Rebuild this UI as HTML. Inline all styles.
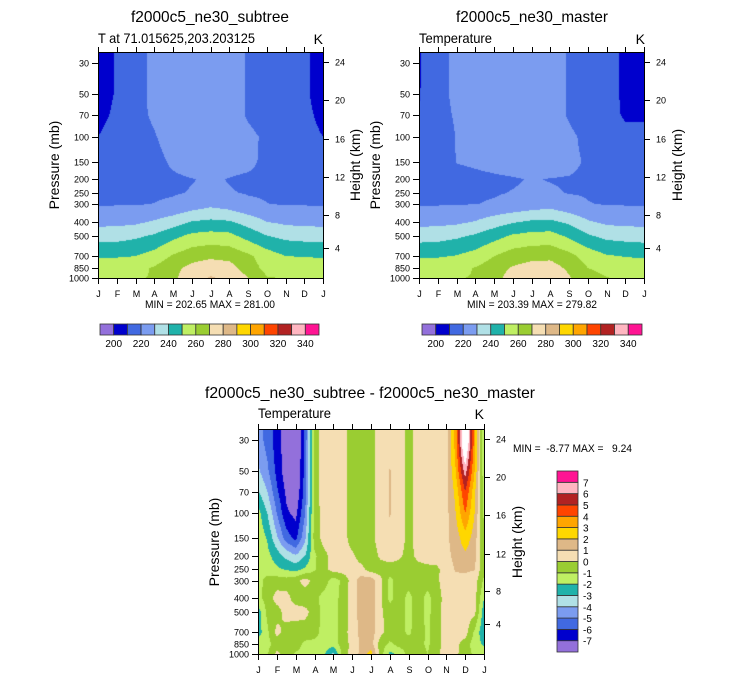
<!DOCTYPE html>
<html><head><meta charset="utf-8">
<style>
html,body{margin:0;padding:0;background:#fff;}
#root{position:relative;width:733px;height:679px;overflow:hidden;background:#fff;font-family:"Liberation Sans",sans-serif;}
canvas{position:absolute;}
svg{position:absolute;left:0;top:0;}
</style></head>
<body>
<div id="root">
<canvas id="cv1"></canvas>
<canvas id="cv2"></canvas>
<canvas id="cv3"></canvas>
<svg id="ov" width="733" height="679" font-family="Liberation Sans, sans-serif">
  <text x="210" y="22" text-anchor="middle" font-size="16" textLength="158" lengthAdjust="spacingAndGlyphs">f2000c5_ne30_subtree</text>
  <text x="98" y="43" font-size="14" textLength="157" lengthAdjust="spacingAndGlyphs">T at 71.015625,203.203125</text>
  <text x="323" y="44" text-anchor="end" font-size="14">K</text>
  <text x="532" y="22" text-anchor="middle" font-size="16" textLength="152" lengthAdjust="spacingAndGlyphs">f2000c5_ne30_master</text>
  <text x="419" y="43" font-size="14" textLength="73" lengthAdjust="spacingAndGlyphs">Temperature</text>
  <text x="645" y="44" text-anchor="end" font-size="14">K</text>
  <text x="370" y="398" text-anchor="middle" font-size="16" textLength="330" lengthAdjust="spacingAndGlyphs">f2000c5_ne30_subtree - f2000c5_ne30_master</text>
  <text x="258" y="418" font-size="14" textLength="73" lengthAdjust="spacingAndGlyphs">Temperature</text>
  <text x="484" y="419" text-anchor="end" font-size="14">K</text>

  <text transform="translate(59,165) rotate(-90)" text-anchor="middle" font-size="14">Pressure (mb)</text>
  <text transform="translate(360,165) rotate(-90)" text-anchor="middle" font-size="14">Height (km)</text>
  <text transform="translate(380,165) rotate(-90)" text-anchor="middle" font-size="14">Pressure (mb)</text>
  <text transform="translate(682,165) rotate(-90)" text-anchor="middle" font-size="14">Height (km)</text>
  <text transform="translate(219,542) rotate(-90)" text-anchor="middle" font-size="14">Pressure (mb)</text>
  <text transform="translate(522,542) rotate(-90)" text-anchor="middle" font-size="14">Height (km)</text>

  <text x="210" y="308" text-anchor="middle" font-size="11" textLength="130" lengthAdjust="spacingAndGlyphs">MIN = 202.65 MAX = 281.00</text>
  <text x="532" y="308" text-anchor="middle" font-size="11" textLength="130" lengthAdjust="spacingAndGlyphs">MIN = 203.39 MAX = 279.82</text>
  <text x="513" y="452" font-size="11" textLength="119" lengthAdjust="spacingAndGlyphs" xml:space="preserve">MIN =  -8.77 MAX =   9.24</text>
</svg>
</div>
<script>
// ---------- data ----------
const months = ['J','F','M','A','M','J','J','A','S','O','N','D','J'];
const pLevels = [25,30,50,70,100,150,200,250,300,400,500,700,850,1000];
const pTicks = [30,50,70,100,150,200,250,300,400,500,700,850,1000];
const zTicks = [24,20,16,12,8,4];
const tempBounds = [200,210,220,230,240,250,260,270,280,290,300,310,320,330,340];
const tempLabels = [200,220,240,260,280,300,320,340];
const diffBounds = [-7,-6,-5,-4,-3,-2,-1,0,1,2,3,4,5,6,7];

const subtreeT = [
 [205,211,217,222,224,226,226,225,219,216,214,212,205],
 [205,211,217,222,224,226,226,225,219,216,214,212,205],
 [205,211,217,222,224,226,226,225,219,216,214,212,205],
 [207,212,218,221,224,226,226,225,219,216,214,213,207],
 [210,214,217,219.5,223,225,225,224,222,218.5,215,214,210],
 [213,215,217,218,221,223,223,222,221.5,218.5,216,215,213],
 [216,217,218,218.5,219,219.8,220.6,219.8,219,218.5,218,217,216],
 [218,219,219,219.3,219.5,220.3,221,220.3,219.7,219.5,219,218.5,218],
 [219,219.5,219.6,220.1,221,224,227.5,225,221,220.1,219.6,219.5,219],
 [227,227,228,231,235,240.5,242,241,236,230,228,227,227],
 [235.6,236,238,241,247,252,253.5,252.5,246,240,237,236,235.6],
 [248.7,249,250,254,261,266,268,267,262,255,250,249.5,248.7],
 [256.7,257,257.5,261,267,273,276,274,265,257,257,257,256.7],
 [259.5,259.5,259.8,260.2,268,276,281,278,270.5,260.5,259.7,259.5,259.5]
];
const masterT = [
 [209,217,222,223,224,225,225.5,225,219,214,211,209.5,209],
 [209,217,222,223,224,225,225.5,225,219,214,211,209.5,209],
 [209.5,217,222,223,224,225,225.5,225,219,214,211,209.5,209.5],
 [210.5,217,221,223,224,225,225.5,225,219,214,211.5,209.5,209.5],
 [212,214,220.5,222,223,224,225,224.5,222,217.5,214,211,211],
 [214,215,220.2,221,222,223,223.5,223,222,219,216,214,214],
 [216,217,218,218.5,219,219.5,220.3,219.8,219.5,218.5,218,217,216],
 [218,218.5,219,219.3,219.6,220.2,220.8,220.6,219.8,219.6,219.2,218.5,218],
 [219,219.4,219.7,219.9,220.5,222,224,226,222,220.2,219.7,219.4,219],
 [227,227,228,230.5,235,239,241.5,242,238,231,228,227,227],
 [235.5,236,238,241,246,251,253,253.5,248,241,237,236,235.5],
 [248.5,249,250.5,254,260,265,267,267.5,263,256,251,249.5,248.5],
 [256.5,257,257.5,260.5,265,271,274,274.5,268,260,258,257,256.5],
 [259.5,259.5,259.8,260.3,266,275,279.5,279.8,271,263,260.2,259.6,259.5]
];
// half-month columns (J .. J, 25 columns)
const diffT = [
 [-4.5,-5.4,-6.5,-7.6,-8.7,-5.8,-0.5,0.5,0.6,0.5,-0.5,-0.6,-0.4,0.5,0.6,0.5,-0.3,0.4,0.6,0.6,0.6,3.5,9.2,3.5,-2.3],
 [-4.5,-5.4,-6.5,-7.6,-8.7,-5.8,-0.5,0.5,0.6,0.5,-0.5,-0.6,-0.4,0.5,0.6,0.5,-0.3,0.4,0.6,0.6,0.6,3.5,9.2,3.5,-2.3],
 [-3.8,-4.8,-6.3,-7.6,-8.2,-5.6,-0.5,0.5,0.6,0.5,-0.5,-0.6,-0.4,0.5,1.05,0.5,-0.3,0.4,0.6,0.6,0.7,3,6.5,3,-1.8],
 [-2.9,-4.0,-5.8,-7.2,-8.0,-5.5,-0.5,0.5,0.6,0.5,-0.5,-0.6,-0.4,0.5,1.05,0.5,-0.3,0.4,0.6,0.6,0.7,2.3,5.0,2.3,-1.5],
 [-1.6,-3.0,-5.0,-6.8,-7.3,-5.0,-0.6,0.5,0.6,0.5,-0.5,-0.6,-0.4,0.5,1.05,0.5,-0.3,0.4,0.6,0.6,0.7,2.0,4.0,2.0,-1.2],
 [-1.3,-2.1,-3.8,-5.5,-6.3,-4.2,-0.6,0.4,0.6,0.5,-0.5,-0.6,-0.3,0.5,0.8,0.5,-0.3,0.4,0.6,0.6,0.8,1.5,2.6,1.5,-1.0],
 [-1.5,-1.7,-2.5,-3.3,-3.9,-3.0,-1.2,-0.3,0.4,0.5,0.2,-0.5,-0.6,0.2,0.4,0.2,-0.4,0.3,0.5,0.5,0.7,1.3,1.8,1.3,-0.8],
 [-1.3,-1.5,-1.8,-2.1,-2.3,-1.8,-1.1,-0.3,0.4,0.5,0.5,0.3,-0.5,-0.5,-0.4,-0.5,-0.6,-0.4,-0.3,-0.2,0.5,1.1,1.15,1.05,-0.8],
 [-1.4,-0.6,-0.5,-0.6,-0.3,0.4,-0.3,-0.5,-1.5,-0.8,0.5,1.5,1.6,0.3,-1.3,-0.5,-0.6,-0.5,-0.6,-0.2,0.6,0.7,0.7,0.5,-1.2],
 [-1.4,-0.5,0.4,0.4,-0.5,-0.6,-0.7,-1.4,-1.6,-0.5,0.4,1.5,1.6,0.2,-1.3,-0.5,-1.3,-0.5,-1.3,-0.5,0.5,0.6,0.6,0.4,-2.0],
 [-2.5,-0.7,-0.4,0.4,0.5,0.3,-0.4,-1.4,-1.6,-0.5,0.4,1.5,1.6,0.2,-0.5,-0.6,-1.3,-0.5,-1.3,-0.4,0.5,0.6,0.5,0.3,-2.6],
 [-2.5,-1.2,0.3,-0.4,-0.6,-0.5,-0.6,-1.4,-1.5,-0.4,0.4,1.4,1.5,0.3,-0.4,-0.6,-1.2,-0.5,-1.2,-0.3,0.4,0.6,0.5,-1.2,-2.8],
 [-1.5,-1.3,-0.6,-0.5,-0.6,-1.2,-1.3,-1.5,-1.6,-0.5,0.3,1.2,1.4,-0.5,-1.2,-0.6,-0.5,-0.6,-1.2,-0.3,0.4,0.3,-0.5,-1.5,-2.2],
 [-1.2,-1.1,0.3,-0.6,-1.1,-1.3,-1.5,-1.8,-3.2,-0.6,0.4,1.3,2.5,-0.5,-2.3,-1.8,-0.6,-0.5,-1.0,-0.2,0.4,0.2,-0.5,-1.2,-1.5]
];

// ---------- styles ----------
const palette = ['#9370DB','#0000CD','#4169E1','#7B9CF0','#B0E0E6','#20B2AA','#BFEF63','#9ACD32',
                 '#F5DEB3','#DEB887','#FFD700','#FFA500','#FF4500','#B22222','#FFB6C1','#FF1493'];
const diffFillPalette = palette.slice(0,15).concat(['#FFFFFF']);

const P1 = {l:98, t:52, w:225, h:226, name:'subtree'};
const P2 = {l:419, t:52, w:225, h:226, name:'master'};
const P3 = {l:258, t:429, w:226, h:225, name:'difference'};

const NS = 'http://www.w3.org/2000/svg';
const ov = document.getElementById('ov');
const LOG30 = Math.log10(30);

function yOfP(P, p){ return P.t + 11 + (Math.log10(p) - LOG30) / (3 - LOG30) * (P.h - 11); }
function xOfIdx(P, i, n){ return P.l + i / (n - 1) * P.w; }
function pOfZ(z){
  const m = z * 1000;
  if (m <= 11000) return 1013.25 * Math.pow(1 - 2.25577e-5 * m, 5.25588);
  if (m <= 20000) return 226.32 * Math.exp(-(m - 11000) / 6341.6);
  return 54.75 * Math.pow(1 + 0.001 * (m - 20000) / 216.65, -34.163);
}
function binOf(v, bounds){ let k = 0; while (k < bounds.length && v >= bounds[k]) k++; return k; }
function hex(c){ return [parseInt(c.substr(1,2),16), parseInt(c.substr(3,2),16), parseInt(c.substr(5,2),16)]; }

function fill(canvasId, P, grid, bounds, pal){
  const cv = document.getElementById(canvasId);
  cv.width = P.w; cv.height = P.h;
  cv.style.left = P.l + 'px'; cv.style.top = P.t + 'px';
  const ctx = cv.getContext('2d');
  const img = ctx.createImageData(P.w, P.h);
  const ncol = grid[0].length;
  const ly = pLevels.map(p => yOfP(P, p));
  const rgb = pal.map(hex);
  for (let py = 0; py < P.h; py++){
    const yy = P.t + py + 0.5;
    let k = 0;
    while (k < ly.length - 2 && yy > ly[k+1]) k++;
    let fy = (yy - ly[k]) / (ly[k+1] - ly[k]);
    fy = Math.max(0, Math.min(1, fy));
    for (let px = 0; px < P.w; px++){
      const fx = (px + 0.5) / P.w * (ncol - 1);
      let c = Math.min(ncol - 2, Math.floor(fx));
      const tx = fx - c;
      const v0 = grid[k][c] * (1 - tx) + grid[k][c+1] * tx;
      const v1 = grid[k+1][c] * (1 - tx) + grid[k+1][c+1] * tx;
      const v = v0 * (1 - fy) + v1 * fy;
      const col = rgb[binOf(v, bounds)];
      const o = (py * P.w + px) * 4;
      img.data[o] = col[0]; img.data[o+1] = col[1]; img.data[o+2] = col[2]; img.data[o+3] = 255;
    }
  }
  ctx.putImageData(img, 0, 0);
}

function line(x1, y1, x2, y2){
  const l = document.createElementNS(NS, 'line');
  l.setAttribute('x1', x1); l.setAttribute('y1', y1);
  l.setAttribute('x2', x2); l.setAttribute('y2', y2);
  l.setAttribute('stroke', '#000'); l.setAttribute('stroke-width', '1');
  ov.appendChild(l);
  return l;
}
function txt(x, y, s, size, anchor){
  const t = document.createElementNS(NS, 'text');
  t.setAttribute('x', x); t.setAttribute('y', y);
  t.setAttribute('font-size', size);
  t.setAttribute('text-anchor', anchor);
  t.textContent = s;
  ov.appendChild(t);
  return t;
}

function axes(P, ncol, monthBase){
  const r = document.createElementNS(NS, 'rect');
  r.setAttribute('x', P.l + 0.5); r.setAttribute('y', P.t + 0.5);
  r.setAttribute('width', P.w); r.setAttribute('height', P.h);
  r.setAttribute('fill', 'none'); r.setAttribute('stroke', '#000');
  
  
  ov.appendChild(r);
  const bottom = P.t + P.h;
  months.forEach((m, i) => {
    const x = Math.round(P.l + i / (months.length - 1) * P.w) + 0.5;
    const tt = line(x, P.t - 5, x, P.t);
    
    
    const tb = line(x, bottom, x, bottom + 6);
    
    
    const lb = txt(x, monthBase, m, 9, 'middle');
    
    
  });
  pTicks.forEach(p => {
    const y = Math.round(yOfP(P, p)) + 0.5;
    const tk = line(P.l - 6, y, P.l, y);
    
    
    const lb = txt(P.l - 9, y + 3, String(p), 9, 'end');
    
    
  });
  zTicks.forEach(z => {
    const y = Math.round(yOfP(P, pOfZ(z))) + 0.5;
    const tk = line(P.l + P.w, y, P.l + P.w + 6, y);
    
    
    const lb = txt(P.l + P.w + 12, y + 3, String(z), 9, 'start');
    
    
  });
}

function hColorbar(x0, x1, y0, y1, name){
  const n = palette.length, bw = (x1 - x0) / n;
  palette.forEach((c, i) => {
    const r = document.createElementNS(NS, 'rect');
    r.setAttribute('x', x0 + i * bw); r.setAttribute('y', y0);
    r.setAttribute('width', bw); r.setAttribute('height', y1 - y0);
    r.setAttribute('fill', c); r.setAttribute('stroke', '#333'); r.setAttribute('stroke-width', '0.8');
    
    
    ov.appendChild(r);
  });
  tempLabels.forEach(v => {
    const k = tempBounds.indexOf(v) + 1;
    const t = txt(x0 + k * bw, y1 + 12, String(v), 10, 'middle');
    
    
  });
}

function vColorbar(x0, x1, y0, y1, name){
  const n = palette.length, bh = (y1 - y0) / n;
  palette.forEach((c, i) => {
    const r = document.createElementNS(NS, 'rect');
    r.setAttribute('x', x0); r.setAttribute('y', y0 + (n - 1 - i) * bh);
    r.setAttribute('width', x1 - x0); r.setAttribute('height', bh);
    r.setAttribute('fill', c); r.setAttribute('stroke', '#333'); r.setAttribute('stroke-width', '0.8');
    
    
    ov.appendChild(r);
  });
  diffBounds.forEach((v, k) => {
    const y = y0 + (n - 1 - k) * bh;
    const t = txt(x1 + 5, y + 4, String(v), 10, 'start');
    
    
  });
}

fill('cv1', P1, subtreeT, tempBounds, palette);
fill('cv2', P2, masterT, tempBounds, palette);
fill('cv3', P3, diffT, diffBounds, diffFillPalette);
axes(P1, 13, 297);
axes(P2, 13, 297);
axes(P3, 25, 673);
hColorbar(100, 319, 324, 335, 'subtree');
hColorbar(422, 642, 324, 335, 'master');
vColorbar(557, 578, 471, 652, 'difference');
</script>
</body></html>
